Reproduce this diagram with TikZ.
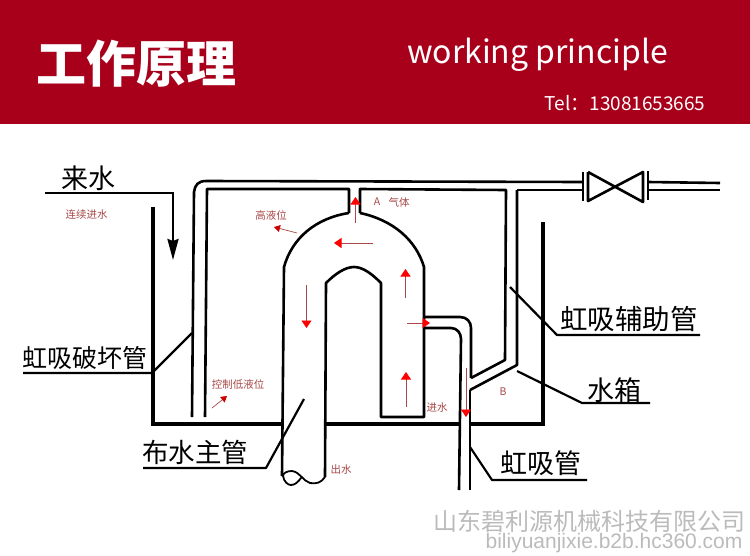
\documentclass[tikz,border=0pt]{standalone}
\usepackage{fontspec}
\setmainfont{Noto Sans CJK SC}
\newfontfamily\webfont{Liberation Sans}
\usepackage{xcolor}
\usepackage{tikz}
\usetikzlibrary{arrows.meta}
\definecolor{bannerred}{HTML}{A8001B}
\definecolor{notered}{HTML}{A84848}
\definecolor{markgrey}{HTML}{BBBBBB}
\tikzset{
	pipe/.style={line width=2.6pt,line join=round},
	wall/.style={line width=3.2pt,line join=miter},
	leader/.style={line width=2.2pt,line join=round},
	flow/.style={line width=0.9pt,draw=notered,-{Triangle[length=7.5pt,width=10pt,color=red]}},
	flowthin/.style={line width=0.7pt,draw=notered,-{Triangle[length=6pt,width=7pt,color=red!80!black]}},
	bigtag/.style={inner sep=0pt,font=\fontsize{27}{30}\selectfont},
	smalltag/.style={inner sep=0pt,text=notered,font=\fontsize{10.5}{12}\selectfont}
}
\begin{document}
\begin{tikzpicture}[x=1pt,y=-1pt]
	\useasboundingbox (0,0) rectangle (750,555);
	\fill[white] (0,0) rectangle (750,555);
	\fill[bannerred] (0,0) rectangle (750,124);
	%
	\node[inner sep=0pt,text=white,font=\fontsize{50}{54}\selectfont\bfseries] (title) at (136.5,64) {工作原理};
	\node[inner sep=0pt,text=white,font=\fontsize{32}{36}\selectfont] (subtitle) at (537.5,55) {working principle};
	\node[inner sep=0pt,text=white,font=\fontsize{19}{22}\selectfont] (phone) at (625,103) {Tel：13081653665};
	\node[inner sep=0pt,text=markgrey,font=\fontsize{24}{26}\selectfont] (company) at (589.5,521) {山东碧利源机械科技有限公司};
	\node[inner sep=0pt,text=markgrey,font=\webfont\fontsize{21}{24}\selectfont] (website) at (614,543) {biliyuanjixie.b2b.hc360.com};
	%
	\node[bigtag] (inlet) at (88.5,178) {来水};
	\node[bigtag,font=\fontsize{25}{28}\selectfont] (breaker) at (85,358) {虹吸破坏管};
	\node[bigtag,font=\fontsize{27.5}{30}\selectfont] (helper) at (629,319) {虹吸辅助管};
	\node[bigtag] (tank) at (614,390) {水箱};
	\node[bigtag] (siphon) at (541,463) {虹吸管};
	\node[bigtag,font=\fontsize{26.5}{30}\selectfont] (mainpipe) at (195,452) {布水主管};
	%
	\node[smalltag] (feed) at (86.5,215) {连续进水};
	\node[smalltag] (highlevel) at (271,215) {高液位};
	\node[smalltag] (gasA) at (377,202) {A};
	\node[smalltag] (gas) at (399,202) {气体};
	\node[smalltag] (lowlevel) at (238,384) {控制低液位};
	\node[smalltag] (outlet) at (341,470) {出水};
	\node[smalltag] (intake) at (437,408) {进水};
	\node[smalltag] (waterB) at (503,392) {B};
	%
	% tank
	\draw[wall] (153,207) -- (153,424) -- (282,424);
	\draw[wall] (326,424) -- (459,424);
	\draw[wall] (470,424) -- (543,424) -- (543,222);
	%
	% supply
	\draw[line width=2.5pt,-{Stealth[length=21pt,width=11pt,inset=2pt]}] (45,193) -- (173,193) -- (173,260);
	%
	% breaker and helper pipes
	\draw[pipe] (192,417) -- (194,192) .. controls (195,185) and (198,181) .. (206,181) -- (583,182);
	\draw[pipe] (205,417) -- (207,189) -- (349,189) -- (349,213);
	\draw[pipe] (360,213) -- (360,189) -- (506,190) -- (505,360) -- (471,378);
	\draw[pipe] (517,190) -- (583,190);
	\draw[pipe] (517,190) -- (517,365) -- (470,390);
	%
	% valve
	\draw[pipe] (583,172) -- (583,201);
	\draw[pipe] (588,172) -- (588,201) -- (643,172) -- (643,202) -- (588,172);
	\draw[pipe] (648,171) -- (648,200);
	\draw[pipe] (648,182) -- (720,183);
	\draw[pipe] (648,190) -- (720,190);
	%
	% inverted U
	\draw[pipe] (282,476) -- (284,267) .. controls (292,238) and (316,218) .. (349,213);
	\draw[pipe] (360,213) .. controls (393,220) and (416,240) .. (424,267) -- (424,417) -- (381,417) -- (381,283)
		.. controls (372,274) and (363,267) .. (354,267) .. controls (345,267) and (335,274) .. (326,283) -- (325,477);
	\draw[line width=1.8pt] (325,477) .. controls (321,483) and (316,484) .. (310,483)
		.. controls (303,481) and (300,472) .. (292,471) .. controls (287,471) and (283,473) .. (283,476)
		.. controls (284,482) and (288,485) .. (291,485) .. controls (295,485) and (298,482) .. (301,478);
	%
	% siphon
	\draw[pipe] (424,317) -- (460,317) .. controls (467,317) and (471,322) .. (471,328) -- (471,378);
	\draw[pipe] (424,328) -- (451,328) .. controls (457,328) and (461,333) .. (461,339) -- (459,490);
	\draw[pipe] (470,390) -- (470,490);
	%
	\coordinate (breakerend) at (192,333);
	\coordinate (breakerkink) at (152,373);
	\coordinate (helperend) at (510,287);
	\coordinate (helperkink) at (557,335);
	\coordinate (tankend) at (517,371);
	\coordinate (tankkink) at (582,403);
	\coordinate (siphonend) at (470,447);
	\coordinate (siphonkink) at (492,480);
	\coordinate (mainend) at (304,399);
	\coordinate (mainkink) at (266,468);
	%
	\draw[leader] (23,373) -- (breakerkink) -- (breakerend);
	\draw[leader] (700,335) -- (helperkink) -- (helperend);
	\draw[leader] (650,403) -- (tankkink) -- (tankend);
	\draw[leader] (587,480) -- (siphonkink) -- (siphonend);
	\draw[leader] (143,468) -- (mainkink) -- (mainend);
	%
	\draw[flow] (355.5,223) -- (355.5,197);
	\draw[flow] (373,243) -- (334,243);
	\draw[flow] (405.5,298) -- (405.5,269);
	\draw[flow] (306.5,285) -- (306.5,328);
	\draw[flow] (407,323) -- (430,323);
	\draw[flow] (406,407) -- (406,372);
	\draw[flow] (466,368) -- (466,417);
	\draw[flowthin] (297,233) -- (274,227);
	\draw[flowthin] (212,408) -- (227,396);
\end{tikzpicture}
\end{document}
